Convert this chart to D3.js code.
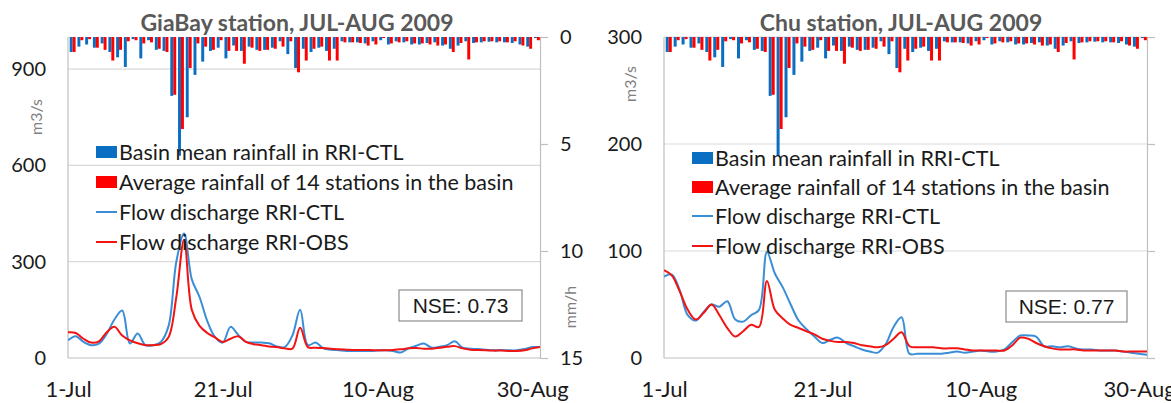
<!DOCTYPE html>
<html>
<head>
<meta charset="utf-8">
<script src="https://cdn.jsdelivr.net/npm/d3@7"></script>
<style>
  html, body { margin: 0; padding: 0; background: #fff; }
  svg { display: block; }
</style>
</head>
<body>
<svg id="chart" width="1171" height="403"></svg>
<script>
// ---- Data -------------------------------------------------------------
// Daily rainfall, 1 Jul – 30 Aug 2009 (mm/h), shared by both basins' panels
const rainCTL = [
  0.70, 0.45, 0.35, 0.50, 0.30, 0.70, 0.95, 1.40, 0.10, 1.00,
  0.15, 0.60, 0.65, 2.75, 5.55, 3.75, 1.77, 1.15, 0.65, 0.50,
  1.00, 0.40, 0.65, 0.45, 0.60, 0.60, 0.50, 0.20, 0.80, 1.45,
  0.55, 0.70, 0.50, 0.65, 0.55, 0.20, 0.25, 0.25, 0.30, 0.20,
  0.15, 0.35, 0.20, 0.25, 0.35, 0.35, 0.28, 0.25, 0.40, 0.55,
  0.40, 0.20, 0.28, 0.25, 0.22, 0.25, 0.25, 0.28, 0.35, 0.45,
  0.05
];
const rainOBS = [
  0.70, 0.15, 0.10, 0.50, 0.60, 1.10, 0.60, 0.20, 0.15, 0.30,
  0.25, 0.55, 0.70, 2.70, 4.30, 1.45, 0.30, 0.45, 0.60, 0.15,
  0.65, 0.65, 1.25, 0.50, 0.65, 0.60, 0.55, 0.45, 0.20, 1.65,
  1.10, 0.55, 0.45, 1.10, 1.10, 0.25, 0.25, 0.28, 0.40, 0.35,
  0.05, 0.30, 0.25, 0.20, 0.30, 0.30, 0.35, 0.40, 0.35, 0.70,
  0.28, 1.05, 0.25, 0.20, 0.20, 0.20, 0.25, 0.20, 0.40, 0.55,
  0.15
];

// Daily discharge, 1 Jul – 31 Aug 2009 (m3/s)
const giabayCTL = [
  55, 68, 50, 40, 45, 75, 120, 148, 45, 76,
  40, 40, 50, 100, 300, 388, 245, 190, 115, 65,
  48, 97, 72, 50, 48, 48, 46, 36, 34, 70,
  150, 40, 48, 30, 26, 24, 22, 22, 22, 22,
  23, 24, 22, 17, 30, 38, 45, 32, 35, 40,
  52, 32, 29, 28, 26, 24, 25, 24, 24, 28,
  34, 34
];
const giabayOBS = [
  80, 78, 60, 48, 52, 80, 97, 70, 55, 46,
  40, 40, 43, 65, 190, 368, 150, 100, 78, 64,
  50, 60, 68, 50, 43, 40, 36, 34, 30, 29,
  94, 34, 32, 31, 29, 27, 26, 25, 25, 25,
  24, 24, 25, 27, 30, 31, 29, 29, 32, 35,
  37, 30, 26, 25, 24, 23, 23, 22, 22, 24,
  30, 34
];
const chuCTL = [
  76, 78, 63, 40, 35, 43, 50, 48, 53, 36,
  34, 40, 45, 99, 79, 66, 50, 35, 27, 20,
  14, 17, 19, 14, 11, 8, 6, 5, 13, 29,
  38, 4, 4, 4, 4, 4, 5, 6, 5, 6,
  7, 6, 6, 8, 15, 21, 21, 20, 11, 11,
  10, 11, 9, 8, 8, 7, 7, 7, 6, 5,
  4, 3
];
const chuOBS = [
  82, 77, 62, 45, 36, 42, 50, 40, 28, 20,
  25, 31, 29, 72, 45, 37, 31, 28, 25, 22,
  18, 16, 15, 15, 14, 12, 11, 10, 12, 18,
  24, 11, 10, 10, 10, 9, 9, 9, 8, 7,
  7, 7, 7, 7, 12, 19, 18, 14, 11, 9,
  8, 8, 8, 7, 7, 7, 7, 7, 6, 6,
  6, 6
];

const startDate = new Date(2009, 6, 1);
const endDate = new Date(2009, 7, 31);
const tickDates = [new Date(2009, 6, 1), new Date(2009, 6, 21), new Date(2009, 7, 10), new Date(2009, 7, 30)];
const tickLabels = ["1-Jul", "21-Jul", "10-Aug", "30-Aug"];
const rainTicks = [0, 5, 10, 15];
const legendLabels = [
  "Basin mean rainfall in RRI-CTL",
  "Average rainfall of 14 stations in the basin",
  "Flow discharge RRI-CTL",
  "Flow discharge RRI-OBS"
];

// ---- Styles -----------------------------------------------------------
const BAR_BLUE = "#0a6fc2";
const BAR_RED = "#ff0000";
const LINE_BLUE = "#3a8ed8";
const LINE_RED = "#f21313";
const GRID = "#d9d9d9";
const AXIS = "#bfbfbf";
const FONT = "Lato, 'Open Sans', sans-serif";

const TOP = 37, BOTTOM = 358;

const panels = [
  {
    title: "GiaBay station, JUL-AUG 2009", titleX: 297,
    x0: 68, x1: 540, qMax: 1000, qTicks: [0, 300, 600, 900],
    ctl: giabayCTL, obs: giabayOBS, nse: "NSE: 0.73",
    nseBox: [399, 290, 123, 31],
    unitQ: [36, 117], unitR: [570, 307], showRainLabels: true,
    legend: { x: 96, ys: [152, 182, 212, 242] }
  },
  {
    title: "Chu station, JUL-AUG 2009", titleX: 901,
    x0: 664, x1: 1147, qMax: 300, qTicks: [0, 100, 200, 300],
    ctl: chuCTL, obs: chuOBS, nse: "NSE: 0.77",
    nseBox: [1006, 291, 121, 31],
    unitQ: [630, 84], unitR: null, showRainLabels: false,
    legend: { x: 692, ys: [158, 187, 216, 246] }
  }
];

const svg = d3.select("#chart");

const rainDays = d3.timeDay.range(startDate, endDate);                 // 1 Jul – 30 Aug
const flowDays = d3.timeDay.range(startDate, d3.timeDay.offset(endDate, 1)); // 1 Jul – 31 Aug

panels.forEach((p, pi) => {
  const g = svg.append("g");
  const x = d3.scaleTime().domain([startDate, endDate]).range([p.x0, p.x1]);
  const yQ = d3.scaleLinear().domain([0, p.qMax]).range([BOTTOM, TOP]);
  const yR = d3.scaleLinear().domain([0, 15]).range([TOP, BOTTOM]);
  const dayW = x(d3.timeDay.offset(startDate, 1)) - x(startDate);

  // horizontal gridlines of the discharge axis
  g.append("g").selectAll("line")
    .data(p.qTicks.filter(t => t > 0))
    .join("line")
    .attr("x1", p.x0).attr("x2", p.x1)
    .attr("y1", d => yQ(d)).attr("y2", d => yQ(d))
    .attr("stroke", GRID).attr("stroke-width", 1.2);

  // plot frame: left and bottom axis lines
  g.append("line").attr("x1", p.x0).attr("x2", p.x0).attr("y1", TOP).attr("y2", BOTTOM)
    .attr("stroke", AXIS).attr("stroke-width", 1.2);
  g.append("line").attr("x1", p.x0).attr("x2", p.x1).attr("y1", BOTTOM).attr("y2", BOTTOM)
    .attr("stroke", AXIS).attr("stroke-width", 1.2);

  // rainfall axis on the right (reversed, 0 at the top)
  const rAxis = d3.axisRight(yR).tickValues(rainTicks).tickSize(8).tickPadding(12)
    .tickFormat(d => p.showRainLabels ? d : "");
  const rg = g.append("g").attr("transform", `translate(${p.x1},0)`).call(rAxis);
  rg.select(".domain").attr("stroke", AXIS).attr("stroke-width", 1.2);
  rg.selectAll(".tick line").attr("stroke", AXIS).attr("stroke-width", 1.2);
  rg.selectAll("text").attr("font-family", FONT).attr("font-size", 20).attr("fill", "#1a1a1a");

  // discharge axis on the left
  const qAxis = d3.axisLeft(yQ).tickValues(p.qTicks).tickSize(0).tickPadding(22);
  const qg = g.append("g").attr("transform", `translate(${p.x0},0)`).call(qAxis);
  qg.select(".domain").remove();
  qg.selectAll("text").attr("font-family", FONT).attr("font-size", 20).attr("fill", "#1a1a1a");

  // date axis
  const xAxis = d3.axisBottom(x).tickValues(tickDates).tickSize(0).tickPadding(23)
    .tickFormat((d, i) => tickLabels[i]);
  const xg = g.append("g").attr("transform", `translate(0,${BOTTOM})`).call(xAxis);
  xg.select(".domain").remove();
  xg.selectAll("text").attr("font-family", FONT).attr("font-size", 22).attr("fill", "#1a1a1a");

  // clip region for the plotted series
  const clipId = "clip" + pi;
  svg.append("clipPath").attr("id", clipId).append("rect")
    .attr("x", p.x0).attr("y", TOP).attr("width", p.x1 - p.x0).attr("height", BOTTOM - TOP);
  const plot = g.append("g").attr("clip-path", `url(#${clipId})`);

  // hanging rainfall bars: blue (RRI-CTL) then red (14 stations) for each day
  const barW = dayW * 0.38;
  plot.append("g").selectAll("rect")
    .data(rainDays.map((d, i) => ({ d, v: rainCTL[i] })))
    .join("rect")
    .attr("x", d => x(d.d) + dayW * 0.6 - barW)
    .attr("y", TOP)
    .attr("width", barW)
    .attr("height", d => yR(d.v) - TOP)
    .attr("fill", BAR_BLUE);
  plot.append("g").selectAll("rect")
    .data(rainDays.map((d, i) => ({ d, v: rainOBS[i] })))
    .join("rect")
    .attr("x", d => x(d.d) + dayW * 0.6)
    .attr("y", TOP)
    .attr("width", barW)
    .attr("height", d => yR(d.v) - TOP)
    .attr("fill", BAR_RED);

  // discharge lines
  const line = d3.line()
    .x(d => x(d.d)).y(d => yQ(d.v))
    .curve(d3.curveCatmullRom.alpha(0.5));
  plot.append("path")
    .datum(flowDays.map((d, i) => ({ d, v: p.ctl[i] })))
    .attr("d", line).attr("fill", "none")
    .attr("stroke", LINE_BLUE).attr("stroke-width", 2);
  plot.append("path")
    .datum(flowDays.map((d, i) => ({ d, v: p.obs[i] })))
    .attr("d", line).attr("fill", "none")
    .attr("stroke", LINE_RED).attr("stroke-width", 2);

  // title
  g.append("text").attr("x", p.titleX).attr("y", 31)
    .attr("text-anchor", "middle")
    .attr("font-family", FONT).attr("font-weight", "bold").attr("font-size", 23)
    .attr("fill", "#595959").text(p.title);

  // axis unit labels
  g.append("text")
    .attr("transform", `translate(${p.unitQ[0]},${p.unitQ[1]}) rotate(-90)`)
    .attr("text-anchor", "middle").attr("dy", "0.35em")
    .attr("font-family", FONT).attr("font-size", 16).attr("fill", "#7f7f7f")
    .text("m3/s");
  if (p.unitR) {
    g.append("text")
      .attr("transform", `translate(${p.unitR[0]},${p.unitR[1]}) rotate(-90)`)
      .attr("text-anchor", "middle").attr("dy", "0.35em")
      .attr("font-family", FONT).attr("font-size", 16).attr("fill", "#7f7f7f")
      .text("mm/h");
  }

  // legend
  const lg = g.append("g");
  const kinds = [
    { type: "rect", color: BAR_BLUE },
    { type: "rect", color: BAR_RED },
    { type: "line", color: LINE_BLUE },
    { type: "line", color: LINE_RED }
  ];
  kinds.forEach((k, i) => {
    const cy = p.legend.ys[i];
    if (k.type === "rect") {
      lg.append("rect").attr("x", p.legend.x).attr("y", cy - 6)
        .attr("width", 21).attr("height", 12).attr("fill", k.color);
    } else {
      lg.append("line").attr("x1", p.legend.x).attr("x2", p.legend.x + 21)
        .attr("y1", cy).attr("y2", cy)
        .attr("stroke", k.color).attr("stroke-width", 2);
    }
    lg.append("text").attr("x", p.legend.x + 23).attr("y", cy).attr("dy", "0.36em")
      .attr("font-family", FONT).attr("font-size", 21.5).attr("fill", "#1a1a1a")
      .text(legendLabels[i]);
  });

  // NSE score box
  const [bx, by, bw, bh] = p.nseBox;
  g.append("rect").attr("x", bx).attr("y", by).attr("width", bw).attr("height", bh)
    .attr("fill", "#fff").attr("stroke", "#8c8c8c").attr("stroke-width", 1.2);
  g.append("text").attr("x", bx + bw / 2).attr("y", by + bh / 2).attr("dy", "0.36em")
    .attr("text-anchor", "middle")
    .attr("font-family", "'Liberation Sans', Arial, sans-serif").attr("font-size", 21)
    .attr("fill", "#1a1a1a").text(p.nse);
});
</script>
</body>
</html>
